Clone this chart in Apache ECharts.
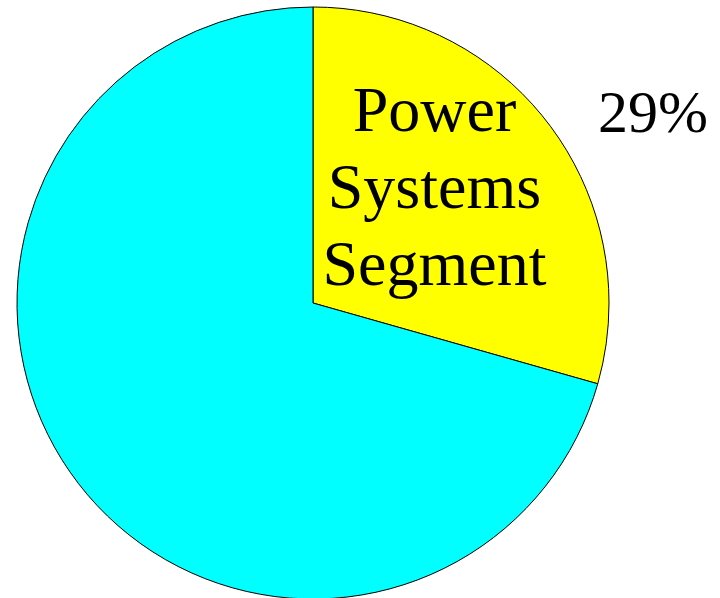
<!DOCTYPE html>
<html>
<head>
<meta charset="utf-8">
<script src="https://cdn.jsdelivr.net/npm/echarts@6/dist/echarts.min.js"></script>
<style>
  html, body { margin: 0; padding: 0; background: #fff; }
  #chart { width: 720px; height: 598px; }
</style>
</head>
<body>
<div id="chart"></div>
<script>
// segment shares
var segmentNames = ['Power Systems Segment', 'Other Segments'];
var segmentValues = [29.4, 70.6];
var segmentColors = ['#ffff00', '#00ffff'];
var shownLabels = ['Power\nSystems\nSegment', ''];

var chart = echarts.init(document.getElementById('chart'));

var total = segmentValues.reduce(function(a, b) { return a + b; }, 0);
var pctText = Math.round(segmentValues[0] / total * 100) + '%';

var pieData = [];
segmentNames.forEach(function(name, i) {
    pieData.push({
        name: name,
        value: segmentValues[i],
        itemStyle: { color: segmentColors[i] },
        label: {
            show: shownLabels[i] !== '',
            formatter: shownLabels[i]
        }
    });
});

var option = {
    animation: false,
    backgroundColor: '#ffffff',
    graphic: [{
        type: 'text',
        left: 598,
        top: 86,
        style: {
            text: pctText,
            font: '60px "Liberation Serif", "Times New Roman", serif',
            fill: '#000'
        }
    }],
    series: [{
        type: 'pie',
        center: [313, 303],
        radius: [0, 296],
        startAngle: 90,
        clockwise: true,
        silent: true,
        itemStyle: { borderColor: '#000', borderWidth: 1 },
        label: {
            position: 'inside',
            color: '#000',
            fontFamily: '"Liberation Serif", "Times New Roman", serif',
            fontSize: 64,
            lineHeight: 77,
            align: 'center',
            offset: [1, -21]
        },
        labelLine: { show: false },
        emphasis: { disabled: true },
        data: pieData
    }]
};

chart.setOption(option);
</script>
</body>
</html>
